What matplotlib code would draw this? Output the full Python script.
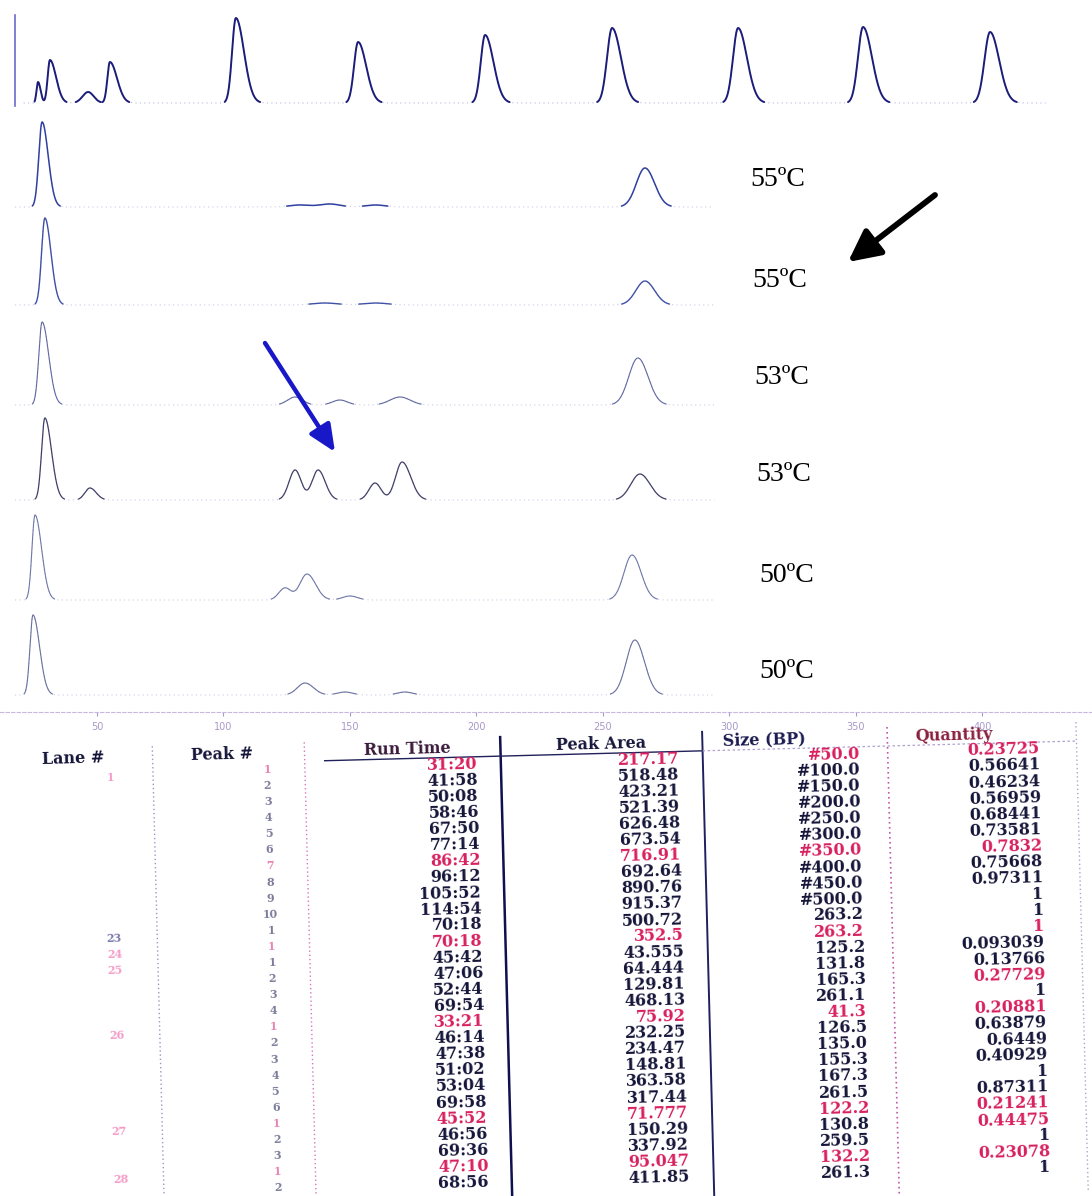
import numpy as np
import matplotlib
matplotlib.use("Agg")
import matplotlib.pyplot as plt
from matplotlib.lines import Line2D

W, H = 1092, 1196

# ---------------- electropherogram data ----------------
# size axis (bp) covering the full page width
BP_MIN, BP_MAX = 11.66, 443.3
size_ticks = [50, 100, 150, 200, 250, 300, 350, 400]

# peaks: (size bp, height, left sigma, right sigma)
ladder_peaks = [
    (26.7, 21, 0.6, 1.0),
    (31.4, 43, 0.9, 2.4),
    (46.5, 11, 2.2, 2.2),
    (55.1, 41, 1.0, 2.8),
    (104.9, 85, 1.5, 3.2),
    (153.2, 61, 1.6, 3.2),
    (203.4, 68, 1.7, 3.3),
    (253.6, 75, 2.0, 3.5),
    (303.4, 75, 2.0, 3.5),
    (352.8, 76, 2.0, 3.5),
    (403.0, 71, 2.2, 3.6),
]
ladder_range = (21.0, 425.0)

lane_temps = ["55ºC", "55ºC", "53ºC", "53ºC", "50ºC", "50ºC"]
lane_peaks = [
    [(28.3, 85, 1.3, 2.4), (130, 2, 4, 4), (142, 3, 4, 4), (160, 2, 4, 4),
     (266.6, 39, 3.4, 3.8)],
    [(29.4, 87, 1.3, 2.4), (140, 2, 5, 5), (160, 2, 5, 5),
     (266.6, 24, 3.6, 3.8)],
    [(28.3, 83, 1.3, 2.6), (128.3, 8, 3, 3), (146, 5, 3, 3), (169.8, 8, 4, 4),
     (263.8, 47, 3.6, 4.0)],
    [(29.4, 82, 1.3, 2.6), (47.2, 12, 2, 2.5), (128.3, 30, 2.4, 2.4),
     (137.4, 30, 2.4, 2.8), (159.9, 17, 2.4, 2.4), (170.6, 38, 2.6, 3.4),
     (264.6, 26, 3.6, 4.0)],
    [(25.5, 85, 1.2, 2.6), (124.3, 12, 2.4, 2.4), (133.0, 26, 2.8, 3.4),
     (150.0, 4, 3, 3), (261.5, 45, 3.2, 3.6)],
    [(24.7, 80, 1.2, 2.6), (132.2, 12, 3, 3.4), (148, 3, 3, 3), (171.7, 3, 3, 3),
     (262.6, 55, 3.4, 3.8)],
]
lane_range = (17.6, 294.0)

# ---------------- fragment table ----------------
headers = ["Lane #", "Peak #", "Run Time", "Peak Area", "Size (BP)", "Quantity"]
lane_ids = {0: "1", 10: "23", 11: "24", 12: "25", 16: "26", 22: "27", 25: "28"}
peak_no = ["1", "2", "3", "4", "5", "6", "7", "8", "9", "10",
           "1", "1", "1", "2", "3", "4", "1", "2", "3", "4", "5", "6",
           "1", "2", "3", "1", "2"]
run_time = ["31:20", "41:58", "50:08", "58:46", "67:50", "77:14", "86:42",
            "96:12", "105:52", "114:54", "70:18", "70:18", "45:42", "47:06",
            "52:44", "69:54", "33:21", "46:14", "47:38", "51:02", "53:04",
            "69:58", "45:52", "46:56", "69:36", "47:10", "68:56"]
peak_area = ["217.17", "518.48", "423.21", "521.39", "626.48", "673.54",
             "716.91", "692.64", "890.76", "915.37", "500.72", "352.5",
             "43.555", "64.444", "129.81", "468.13", "75.92", "232.25",
             "234.47", "148.81", "363.58", "317.44", "71.777", "150.29",
             "337.92", "95.047", "411.85"]
size_bp = ["#50.0", "#100.0", "#150.0", "#200.0", "#250.0", "#300.0",
           "#350.0", "#400.0", "#450.0", "#500.0", "263.2", "263.2",
           "125.2", "131.8", "165.3", "261.1", "41.3", "126.5", "135.0",
           "155.3", "167.3", "261.5", "122.2", "130.8", "259.5", "132.2",
           "261.3"]
quantity = ["0.23725", "0.56641", "0.46234", "0.56959", "0.68441", "0.73581",
            "0.7832", "0.75668", "0.97311", "1", "1", "1", "0.093039",
            "0.13766", "0.27729", "1", "0.20881", "0.63879", "0.6449",
            "0.40929", "1", "0.87311", "0.21241", "0.44475", "1", "0.23078",
            "1"]
flagged_rows = [0, 6, 11, 16, 22, 25]

# ---------------- figure ----------------
fig = plt.figure(figsize=(W / 100, H / 100), dpi=100)
fig.patch.set_facecolor("white")


def signal(x, peaks):
    y = np.zeros_like(x)
    for c, h, sl, sr in peaks:
        s = np.where(x < c, sl, sr)
        y += h * np.exp(-0.5 * ((x - c) / s) ** 2)
    return y


def lane_axes(baseline_px, below_px=8, above_px=100):
    top = baseline_px - above_px
    bottom = baseline_px + below_px
    ax = fig.add_axes([0, 1 - bottom / H, 1, (bottom - top) / H])
    ax.set_xlim(BP_MIN, BP_MAX)
    ax.set_ylim(-below_px, above_px)
    ax.patch.set_alpha(0)
    for sp in ax.spines.values():
        sp.set_visible(False)
    ax.set_xticks([])
    ax.set_yticks([])
    return ax


def draw_trace(ax, peaks, xr, color, lw, faint):
    x = np.linspace(xr[0], xr[1], 3000)
    y = signal(x, peaks)
    ax.plot(x, y, color=faint, lw=0.8, ls=(0, (1, 3)), alpha=0.55,
            clip_on=False)
    ax.plot(x, np.where(y > 0.9, y, np.nan), color=color, lw=lw,
            clip_on=False, solid_capstyle="round")


# ladder panel
ax0 = lane_axes(103, below_px=3, above_px=88)
draw_trace(ax0, ladder_peaks, ladder_range, "#1c1c7a", 1.4, "#8080c8")
ax0.spines["left"].set_visible(True)
ax0.spines["left"].set_position(("data", 17.6))
ax0.spines["left"].set_color("#6a6ad0")
ax0.spines["left"].set_linestyle((0, (2, 1)))
ax0.spines["left"].set_linewidth(1.2)

baselines = [207, 305, 405, 500, 600, 695]
colors = ["#3040a0", "#4050a8", "#6068a0", "#404068", "#7078a8", "#6870a0"]
widths = [1.1, 1.0, 0.8, 0.9, 0.8, 0.8]
label_pos = [(750, 180), (752, 280), (754, 378), (756, 474), (759, 576),
             (759, 671)]
for i, (b, pk) in enumerate(zip(baselines, lane_peaks)):
    last = i == len(baselines) - 1
    ax = lane_axes(b, below_px=17 if last else 8)
    draw_trace(ax, pk, lane_range, colors[i], widths[i], "#a0a0d0")
    lx, ly = label_pos[i]
    fig.text(lx / W, 1 - ly / H, lane_temps[i], family="Liberation Serif",
             fontsize=20, color="black", ha="left", va="center")
    if last:
        ax.spines["bottom"].set_visible(True)
        ax.spines["bottom"].set_color("#c8b8e0")
        ax.spines["bottom"].set_linestyle((0, (3, 2)))
        ax.set_xticks(size_ticks)
        ax.set_xticklabels([str(t) for t in size_ticks])
        ax.tick_params(axis="x", labelsize=7, colors="#a898c8", length=3,
                       pad=4)

# annotation arrows
fig.add_artist(matplotlib.patches.FancyArrowPatch(
    (935 / W, 1 - 195 / H), (848 / W, 1 - 262 / H),
    transform=fig.transFigure, arrowstyle="-|>,head_width=0.4,head_length=0.8",
    mutation_scale=24, lw=4.2, color="black", shrinkA=0, shrinkB=0))
fig.add_artist(matplotlib.patches.FancyArrowPatch(
    (265 / W, 1 - 343 / H), (335 / W, 1 - 452 / H),
    transform=fig.transFigure, arrowstyle="-|>,head_width=0.4,head_length=0.9",
    mutation_scale=18, lw=3.2, color="#1818c8", shrinkA=0, shrinkB=0))

# ---------------- table (slightly rotated scan) ----------------
THETA = np.radians(1.5)
PX, PY = 546.0, 960.0


def rot(x, y):
    dx, dy = x - PX, y - PY
    xr = PX + dx * np.cos(THETA) + dy * np.sin(THETA)
    yr = PY - dx * np.sin(THETA) + dy * np.cos(THETA)
    return xr / W, 1 - yr / H


ink = "#15153a"
red = "#d8205e"
tfont = dict(family="DejaVu Serif", fontweight="bold", fontsize=11.5,
             rotation=np.degrees(THETA), rotation_mode="anchor")


def put(x, y, s, ha, color, **kw):
    fx, fy = rot(x, y)
    opts = dict(tfont)
    opts.update(kw)
    fig.text(fx, fy, s, ha=ha, va="center", color=color, **opts)


header_x = [79, 227, 413, 607, 770, 960]
header_col = [ink, ink, "#3a1a3a", ink, "#1a1a50", "#8a2040"]
for hx, hs, hc in zip(header_x, headers, header_col):
    put(hx, 746, hs, "center", hc)

row0, step = 762.0, 16.1
for i in range(len(run_time)):
    y = row0 + i * step
    c = red if i in flagged_rows else ink
    put(483, y, run_time[i], "right", c)
    put(684, y, peak_area[i], "right", c)
    put(865, y, size_bp[i], "right", c)
    qc = red if (i in flagged_rows or i in (14, 23)) else ink
    put(1045, y, quantity[i], "right", qc)
    put(272, y, peak_no[i], "center",
        "#e05a9a" if i in flagged_rows else "#505078", fontsize=8, alpha=0.75)
for i, s in lane_ids.items():
    put(115, row0 + i * step + 4, s, "center",
        "#40408a" if s == "23" else "#f070b0", fontsize=8, alpha=0.7)

# column rules
rules = [(158, (0, (1, 2)), "#9898c8", 1.0),
         (310, (0, (1, 2)), "#d878b8", 1.0),
         (506, "-", "#101050", 1.8),
         (708, "-", "#202060", 1.4),
         (893, (0, (1, 2)), "#c058a8", 1.2),
         (1082, (0, (1, 2)), "#a8a8c8", 1.0)]
for rx, ls, rc, rw in rules:
    (x0, y0), (x1, y1) = rot(rx, 736), rot(rx, 1205)
    fig.add_artist(Line2D([x0, x1], [y0, y1], transform=fig.transFigure,
                          color=rc, ls=ls, lw=rw))
(x0, y0), (x1, y1) = rot(330, 755), rot(708, 755)
fig.add_artist(Line2D([x0, x1], [y0, y1], transform=fig.transFigure,
                      color="#20205a", lw=1.0))
(x0, y0), (x1, y1) = rot(708, 755), rot(1082, 755)
fig.add_artist(Line2D([x0, x1], [y0, y1], transform=fig.transFigure,
                      color="#b0a0d0", lw=0.9, ls=(0, (2, 2))))

fig.savefig("out.png", dpi=100, facecolor="white")
